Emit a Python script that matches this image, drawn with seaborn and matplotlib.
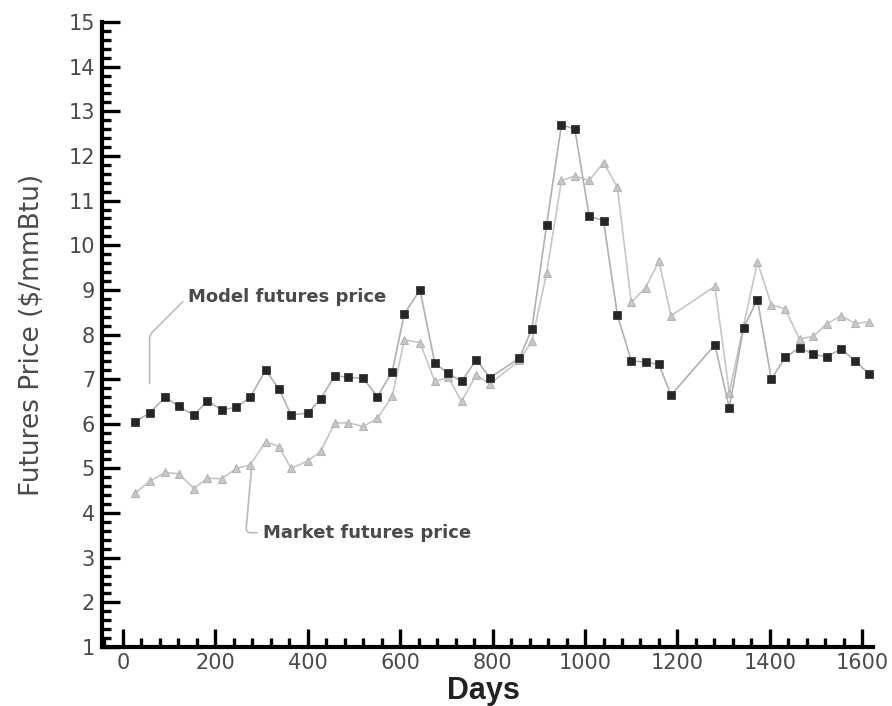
import matplotlib
matplotlib.use("Agg")
import matplotlib.pyplot as plt
import seaborn as sns
import pandas as pd
from matplotlib.ticker import MultipleLocator

days = [27, 58, 92, 121, 154, 183, 214, 246, 276, 309,
        338, 364, 401, 428, 459, 488, 520, 551, 583, 609,
        643, 675, 704, 733, 765, 794, 858, 885, 917, 949,
        978, 1009, 1040, 1070, 1100, 1131, 1160, 1186, 1281, 1312,
        1343, 1373, 1403, 1433, 1464, 1494, 1523, 1554, 1584, 1615]

model_price = [6.05, 6.24, 6.6, 6.39, 6.19, 6.52, 6.31, 6.37, 6.6, 7.2,
               6.78, 6.2, 6.24, 6.56, 7.08, 7.04, 7.02, 6.61, 7.17, 8.46,
               9.0, 7.36, 7.13, 6.95, 7.44, 7.03, 7.47, 8.12, 10.46, 12.7,
               12.6, 10.65, 10.55, 8.44, 7.41, 7.38, 7.33, 6.64, 7.77, 6.36,
               8.15, 8.78, 7.0, 7.49, 7.7, 7.56, 7.5, 7.68, 7.41, 7.11]

market_price = [4.45, 4.71, 4.91, 4.88, 4.55, 4.78, 4.77, 5.0, 5.08, 5.6,
                5.49, 5.0, 5.17, 5.38, 6.02, 6.02, 5.94, 6.12, 6.62, 7.88,
                7.82, 6.95, 7.04, 6.5, 7.1, 6.89, 7.42, 7.85, 9.38, 11.45,
                11.55, 11.45, 11.85, 11.3, 8.72, 9.05, 9.64, 8.42, 9.08, 6.7,
                8.2, 9.62, 8.67, 8.57, 7.9, 7.96, 8.24, 8.42, 8.25, 8.28]

x_ticks = [0, 200, 400, 600, 800, 1000, 1200, 1400, 1600]
y_ticks = list(range(1, 16))

sns.set_style("ticks")
plt.rcParams['font.family'] = ['DejaVu Sans']

df = pd.DataFrame({"Days": days, "Model": model_price, "Market": market_price})

fig = plt.figure(figsize=(8.92, 7.06), dpi=100)
ax = fig.add_axes([0.1143, 0.0836, 0.8644, 0.8852])

sns.lineplot(data=df, x="Days", y="Market", ax=ax, color="#c6c6c6", lw=1.2,
             marker="^", markersize=6, markerfacecolor="#c8c8c8",
             markeredgecolor="#b4b4b4", markeredgewidth=0.8)
sns.lineplot(data=df, x="Days", y="Model", ax=ax, color="#b0b0b0", lw=1.2,
             marker="s", markersize=5.8, markerfacecolor="#262626",
             markeredgecolor="#262626", markeredgewidth=0.5)

ax.set_xlim(-45, 1623)
ax.set_ylim(1, 15)
ax.set_xticks(x_ticks)
ax.set_yticks(y_ticks)
ax.xaxis.set_minor_locator(MultipleLocator(40))
ax.yaxis.set_minor_locator(MultipleLocator(0.2))

for side in ("top", "right"):
    ax.spines[side].set_visible(False)
for side in ("left", "bottom"):
    ax.spines[side].set_linewidth(3)
    ax.spines[side].set_color("black")

ax.tick_params(which="major", direction="in", length=13, width=2.4,
               color="black", labelsize=15, labelcolor="#4a4a4a")
ax.tick_params(axis="y", which="major", pad=5)
ax.tick_params(axis="x", which="major", pad=4)
ax.tick_params(which="minor", direction="in", length=6.5, width=2.4, color="black")

ax.set_xlabel("Days", fontsize=22, fontweight="bold", color="#222222",
              family=["Liberation Sans", "DejaVu Sans"])
ax.xaxis.set_label_coords(0.495, -0.046)
ax.set_ylabel("Futures Price ($/mmBtu)", fontsize=19, color="#4a4a4a")
ax.yaxis.set_label_coords(-0.074, 0.5)

ax.annotate("Model futures price", xy=(58, 6.9), xytext=(141, 8.85),
            textcoords="data", fontsize=13, fontweight="bold", color="#4a4a4a",
            va="center", ha="left",
            arrowprops=dict(arrowstyle="-", color="#bbbbbb", lw=1.2,
                            connectionstyle="angle,angleA=-135,angleB=90,rad=4",
                            relpos=(0, 0.5), shrinkA=2, shrinkB=0))
ax.annotate("Market futures price", xy=(278, 4.95), xytext=(303, 3.56),
            textcoords="data", fontsize=13, fontweight="bold", color="#4a4a4a",
            va="center", ha="left",
            arrowprops=dict(arrowstyle="-", color="#bbbbbb", lw=1.2,
                            connectionstyle="angle,angleA=180,angleB=-95,rad=5",
                            relpos=(0, 0.5), shrinkA=2, shrinkB=0))

fig.savefig("out.png", dpi=100)
